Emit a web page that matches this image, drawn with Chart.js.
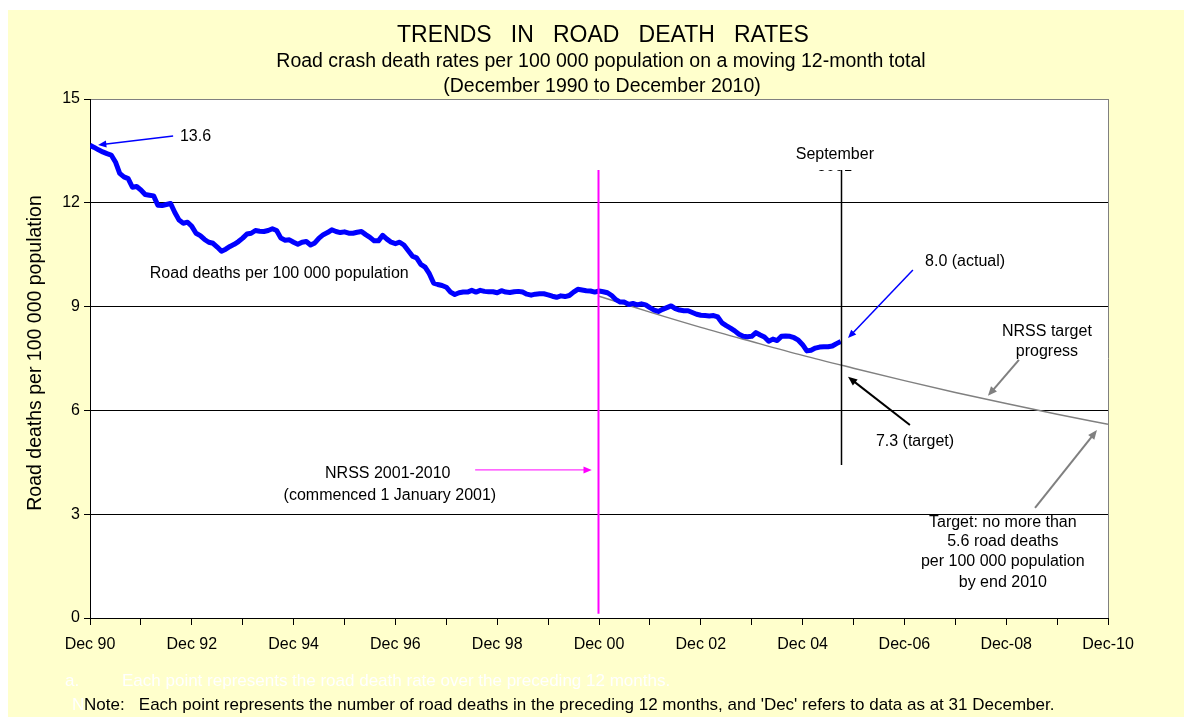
<!DOCTYPE html>
<html>
<head>
<meta charset="utf-8">
<script src="https://cdn.jsdelivr.net/npm/chart.js"></script>
<style>
  html, body { margin: 0; padding: 0; background: #fff; }
  canvas { display: block; }
</style>
</head>
<body>
<canvas id="chart" width="1184" height="727"></canvas>
<script>
// Road deaths per 100 000 population, moving 12-month total, monthly from Dec 1990 to Sep 2005
const roadDeathRates = [
  13.66, 13.60, 13.53, 13.47, 13.42, 13.38, 13.18, 12.85, 12.75, 12.70, 12.45, 12.47,
  12.37, 12.24, 12.22, 12.20, 11.93, 11.92, 11.95, 11.98, 11.72, 11.50, 11.41, 11.44,
  11.32, 11.12, 11.05, 10.94, 10.86, 10.83, 10.72, 10.60, 10.66, 10.74, 10.80, 10.88,
  10.98, 11.10, 11.12, 11.20, 11.18, 11.17, 11.20, 11.25, 11.20, 10.98, 10.92, 10.93,
  10.86, 10.80, 10.86, 10.88, 10.78, 10.84, 10.98, 11.08, 11.14, 11.22, 11.17, 11.14,
  11.16, 11.12, 11.12, 11.15, 11.17, 11.08, 11.00, 10.90, 10.90, 11.06, 10.95, 10.86,
  10.82, 10.86, 10.78, 10.62, 10.46, 10.41, 10.22, 10.14, 9.95, 9.68, 9.64, 9.61,
  9.56, 9.42, 9.35, 9.40, 9.42, 9.42, 9.47, 9.42, 9.47, 9.44, 9.43, 9.43,
  9.40, 9.46, 9.42, 9.41, 9.43, 9.44, 9.42, 9.36, 9.33, 9.36, 9.37, 9.37,
  9.34, 9.30, 9.27, 9.31, 9.29, 9.32, 9.42, 9.50, 9.48, 9.46, 9.45, 9.42,
  9.45, 9.43, 9.40, 9.32, 9.20, 9.13, 9.13, 9.06, 9.09, 9.05, 9.08, 9.05,
  8.97, 8.90, 8.86, 8.92, 8.97, 9.02, 8.94, 8.90, 8.88, 8.88, 8.83, 8.78,
  8.75, 8.74, 8.73, 8.74, 8.70, 8.53, 8.45, 8.38, 8.30, 8.20, 8.14, 8.13,
  8.14, 8.25, 8.18, 8.12, 8.00, 8.06, 8.02, 8.14, 8.15, 8.14, 8.10, 8.03,
  7.90, 7.72, 7.74, 7.80, 7.83, 7.84, 7.84, 7.86, 7.93, 7.99
];

// NRSS target progress, Dec 2000 .. Dec 2010 (months since Dec 1990)
const targetMonths = [120, 132, 144, 156, 168, 180, 192, 204, 216, 228, 240];
const targetRates = [9.30, 8.84, 8.40, 7.99, 7.59, 7.22, 6.86, 6.52, 6.20, 5.89, 5.60];

const xTickLabels = ['Dec 90', 'Dec 92', 'Dec 94', 'Dec 96', 'Dec 98', 'Dec 00',
                     'Dec 02', 'Dec 04', 'Dec-06', 'Dec-08', 'Dec-10'];
const yTickValues = [0, 3, 6, 9, 12, 15];

const FONT = '"Liberation Sans", Arial, sans-serif';

function arrow(ctx, x1, y1, x2, y2, color, width, head) {
  const a = Math.atan2(y2 - y1, x2 - x1);
  ctx.strokeStyle = color;
  ctx.fillStyle = color;
  ctx.lineWidth = width;
  ctx.beginPath();
  ctx.moveTo(x1, y1);
  ctx.lineTo(x2 - head * 0.7 * Math.cos(a), y2 - head * 0.7 * Math.sin(a));
  ctx.stroke();
  ctx.beginPath();
  ctx.moveTo(x2, y2);
  ctx.lineTo(x2 - head * Math.cos(a - 0.4), y2 - head * Math.sin(a - 0.4));
  ctx.lineTo(x2 - head * Math.cos(a + 0.4), y2 - head * Math.sin(a + 0.4));
  ctx.closePath();
  ctx.fill();
}

function text(ctx, str, x, y, size, align, color) {
  ctx.font = size + 'px ' + FONT;
  ctx.textAlign = align || 'center';
  ctx.textBaseline = 'middle';
  ctx.fillStyle = color || '#000';
  ctx.fillText(str, x, y);
}

// page background, plot area and titles
const backgroundPlugin = {
  id: 'background',
  beforeDraw(chart) {
    const ctx = chart.ctx, a = chart.chartArea;
    ctx.save();
    ctx.fillStyle = '#fff';
    ctx.fillRect(0, 0, chart.width, chart.height);
    ctx.fillStyle = '#ffffcc';
    ctx.fillRect(8, 10, chart.width - 8, 707);
    ctx.fillStyle = '#fff';
    ctx.fillRect(a.left, a.top, a.right - a.left, a.bottom - a.top);

    text(ctx, 'TRENDS   IN   ROAD   DEATH   RATES', 603, 36, 23);
    text(ctx, 'Road crash death rates per 100 000 population on a moving 12-month total', 601, 62, 19.5);
    text(ctx, '(December 1990 to December 2010)', 602, 87, 19.5);

    ctx.save();
    ctx.translate(36, 353);
    ctx.rotate(-Math.PI / 2);
    text(ctx, 'Road deaths per 100 000 population', 0, 0, 19.5);
    ctx.restore();

    text(ctx, 'a.', 65, 681, 17, 'left', '#ffffff');
    text(ctx, 'Each point represents the road death rate over the preceding 12 months.', 122, 681, 17, 'left', '#ffffff');
    text(ctx, 'N', 72, 705, 17, 'left', '#ffffff');
    text(ctx, "Note:   Each point represents the number of road deaths in the preceding 12 months, and 'Dec' refers to data as at 31 December.", 84, 705, 17, 'left');
    ctx.restore();
  },
  afterDraw(chart) {
    const ctx = chart.ctx, a = chart.chartArea;
    ctx.save();
    ctx.strokeStyle = '#808080';
    ctx.lineWidth = 1;
    ctx.beginPath();
    ctx.moveTo(Math.round(a.right) + 0.5, a.top);
    ctx.lineTo(Math.round(a.right) + 0.5, a.bottom);
    ctx.stroke();
    ctx.restore();
  }
};

// reference lines, labels and arrows placed in data space
const annotationPlugin = {
  id: 'annotations',
  afterDatasetsDraw(chart) {
    const ctx = chart.ctx;
    const xs = chart.scales.x, ys = chart.scales.y;
    const X = m => xs.getPixelForValue(m);
    const Y = v => ys.getPixelForValue(v);
    ctx.save();

    // NRSS start (Dec 2000)
    const xStart = Math.round(X(120)) - 0.5;
    ctx.strokeStyle = '#ff00ff';
    ctx.lineWidth = 2;
    ctx.beginPath();
    ctx.moveTo(xStart, Y(12.95));
    ctx.lineTo(xStart, Y(0.12));
    ctx.stroke();
    text(ctx, 'NRSS 2001-2010', X(70.2), Y(4.16), 16);
    text(ctx, '(commenced 1 January 2001)', X(70.7), Y(3.55), 16);
    arrow(ctx, X(90.8), Y(4.28), X(118.3), Y(4.28), '#ff00ff', 1, 9);

    // September 2005
    const xSep = Math.round(X(177)) + 0.5;
    ctx.strokeStyle = '#000';
    ctx.lineWidth = 1.5;
    ctx.beginPath();
    ctx.moveTo(xSep, Y(12.95));
    ctx.lineTo(xSep, Y(4.42));
    ctx.stroke();
    text(ctx, 'September', X(175.6), Y(13.38), 16);
    ctx.save();
    ctx.beginPath();
    ctx.rect(X(165), Y(13.2), X(190) - X(165), Y(12.95) - Y(13.2) + 1);
    ctx.clip();
    text(ctx, '2005', X(175.6), Y(12.95) + 8, 16);
    ctx.restore();

    // series labels
    text(ctx, '13.6', X(21.2), Y(13.9), 16, 'left');
    arrow(ctx, X(19.6), Y(13.93), X(1.9), Y(13.67), '#0000ff', 1.5, 9);
    text(ctx, 'Road deaths per 100 000 population', X(14.1), Y(9.94), 16, 'left');

    text(ctx, '8.0 (actual)', X(206.3), Y(10.29), 16);
    arrow(ctx, X(194), Y(10.06), X(178.7), Y(8.09), '#0000ff', 1.5, 9);

    text(ctx, '7.3 (target)', X(194.5), Y(5.09), 16);
    arrow(ctx, X(193.3), Y(5.58), X(178.7), Y(6.97), '#000', 2, 10);

    text(ctx, 'NRSS target', X(225.6), Y(8.29), 16);
    text(ctx, 'progress', X(225.6), Y(7.69), 16);
    arrow(ctx, X(219), Y(7.46), X(211.7), Y(6.42), '#808080', 2, 10);

    text(ctx, 'Target: no more than', X(215.2), Y(2.77), 16);
    text(ctx, '5.6 road deaths', X(215.2), Y(2.20), 16);
    text(ctx, 'per 100 000 population', X(215.2), Y(1.62), 16);
    text(ctx, 'by end 2010', X(215.2), Y(1.01), 16);
    arrow(ctx, X(222.8), Y(3.18), X(237.4), Y(5.43), '#808080', 2, 10);

    ctx.restore();
  }
};

new Chart(document.getElementById('chart'), {
  type: 'line',
  data: {
    datasets: [
      {
        label: 'Road deaths per 100 000 population',
        data: roadDeathRates.map((v, i) => ({ x: i, y: v })),
        borderColor: '#0000ff',
        borderWidth: 5,
        pointRadius: 0,
        tension: 0,
        borderJoinStyle: 'round'
      },
      {
        label: 'NRSS target progress',
        data: targetMonths.map((m, i) => ({ x: m, y: targetRates[i] })),
        borderColor: '#808080',
        borderWidth: 1.5,
        pointRadius: 0,
        cubicInterpolationMode: 'monotone'
      }
    ]
  },
  options: {
    responsive: false,
    animation: false,
    devicePixelRatio: 1,
    layout: { padding: { left: 0, top: 99, right: 76, bottom: 69 } },
    plugins: {
      legend: { display: false },
      tooltip: { enabled: false }
    },
    scales: {
      x: {
        type: 'linear',
        min: 0,
        max: 240,
        afterBuildTicks: scale => {
          scale.ticks = [];
          for (let m = 0; m <= 240; m += 12) scale.ticks.push({ value: m });
        },
        afterFit: scale => { scale.height = 40; },
        ticks: {
          autoSkip: false,
          maxRotation: 0,
          padding: 10,
          color: '#000',
          font: { family: FONT, size: 16 },
          callback: v => (v % 24 === 0 ? xTickLabels[v / 24] : '')
        },
        grid: { drawOnChartArea: false, tickLength: 7, tickColor: '#000' },
        border: { color: '#000', width: 1 }
      },
      y: {
        min: 0,
        max: 15,
        afterBuildTicks: scale => {
          scale.ticks = yTickValues.map(v => ({ value: v }));
        },
        afterFit: scale => { scale.width = 90; },
        ticks: {
          padding: 4,
          color: '#000',
          font: { family: FONT, size: 16 }
        },
        grid: {
          color: c => (c.tick && c.tick.value === 15 ? '#808080' : '#000'),
          tickLength: 6,
          tickColor: '#000'
        },
        border: { color: '#000', width: 1 }
      }
    }
  },
  plugins: [backgroundPlugin, annotationPlugin]
});
</script>
</body>
</html>
